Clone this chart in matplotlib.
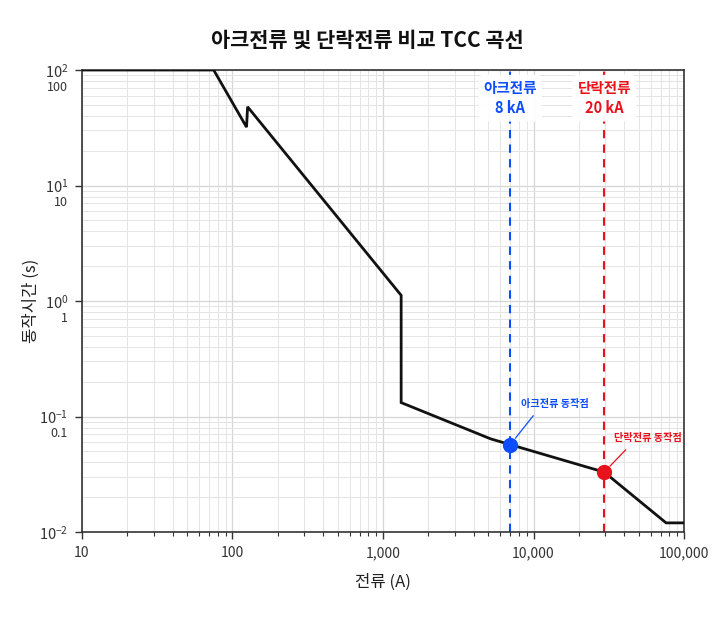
import matplotlib
matplotlib.use("Agg")
import matplotlib.pyplot as plt
import matplotlib.ticker as mticker
import matplotlib.transforms as mtransforms

plt.rcParams['font.family'] = ['Noto Sans CJK KR', 'DejaVu Sans']
plt.rcParams['axes.unicode_minus'] = False
plt.rcParams['mathtext.fontset'] = 'custom'
plt.rcParams['mathtext.rm'] = 'Noto Sans'
plt.rcParams['mathtext.it'] = 'Noto Sans:italic'
plt.rcParams['mathtext.bf'] = 'Noto Sans:bold'

# ---- data ----
current_A = [10, 75, 124, 126, 1320, 1320, 5200, 29500, 76000, 100000]
time_s = [100, 100, 32, 48, 1.12, 0.132, 0.064, 0.033, 0.012, 0.012]

arc_current = 7000
arc_time = 0.057
fault_current = 29500
fault_time = 0.033

arc_label = "아크전류\n8 kA"
fault_label = "단락전류\n20 kA"
arc_point_label = "아크전류 동작점"
fault_point_label = "단락전류 동작점"

x_ticks = [10, 100, 1000, 10000, 100000]
x_tick_labels = ["10", "100", "1,000", "10,000", "100,000"]
y_ticks = [0.01, 0.1, 1, 10, 100]
y_tick_labels = [r"$\mathregular{10^{-2}}$", r"$\mathregular{10^{-1}}$",
                 r"$\mathregular{10^{0}}$", r"$\mathregular{10^{1}}$",
                 r"$\mathregular{10^{2}}$"]
y_sub_labels = ["", "0.1", "1", "10", "100"]

title = "아크전류 및 단락전류 비교 TCC 곡선"
xlabel = "전류 (A)"
ylabel = "동작시간 (s)"

blue = "#0d4dff"
red = "#e8121c"

fig = plt.figure(figsize=(7.28, 6.2), dpi=100)
ax = fig.add_axes([0.1126, 0.1419, 0.827, 0.7452])

ax.set_xscale('log')
ax.set_yscale('log')
ax.set_xlim(10, 100000)
ax.set_ylim(0.01, 100)

ax.grid(True, which='major', color='#d6d6d6', linewidth=0.9, zorder=0)
ax.grid(True, which='minor', color='#e4e4e4', linewidth=0.7, zorder=0)
ax.set_axisbelow(True)

ax.plot(current_A, time_s, color='#111111', linewidth=2.0, zorder=3,
        solid_joinstyle='miter')

ax.axvline(arc_current, color=blue, linestyle=(0, (4, 3)), linewidth=1.5, zorder=2)
ax.axvline(fault_current, color=red, linestyle=(0, (4, 3)), linewidth=1.5, zorder=2)

ax.plot([arc_current], [arc_time], 'o', color=blue, markersize=10, zorder=5)
ax.plot([fault_current], [fault_time], 'o', color=red, markersize=10, zorder=5)

ax.text(arc_current, 57, arc_label, color=blue, fontsize=10.5, fontweight='bold',
        ha='center', va='center', linespacing=1.35, zorder=6,
        bbox=dict(boxstyle='round,pad=0.35', facecolor='white', edgecolor='none', alpha=0.95))
ax.text(fault_current, 57, fault_label, color=red, fontsize=10.5, fontweight='bold',
        ha='center', va='center', linespacing=1.35, zorder=6,
        bbox=dict(boxstyle='round,pad=0.35', facecolor='white', edgecolor='none', alpha=0.95))

ax.annotate(arc_point_label, xy=(arc_current, arc_time), xytext=(8, 26),
            textcoords='offset points', color=blue, fontsize=7.3, fontweight='bold',
            ha='left', va='bottom', zorder=6,
            arrowprops=dict(arrowstyle='-', color=blue, linewidth=0.9,
                            shrinkA=4, shrinkB=6, relpos=(0.26, 0)))
ax.annotate(fault_point_label, xy=(fault_current, fault_time), xytext=(7, 21),
            textcoords='offset points', color=red, fontsize=7.3, fontweight='bold',
            ha='left', va='bottom', zorder=6,
            arrowprops=dict(arrowstyle='-', color=red, linewidth=0.9,
                            shrinkA=4, shrinkB=6, relpos=(0.27, 0)))

ax.xaxis.set_major_locator(mticker.FixedLocator(x_ticks))
ax.xaxis.set_major_formatter(mticker.FixedFormatter(x_tick_labels))
ax.xaxis.set_minor_locator(mticker.LogLocator(base=10, subs=range(2, 10), numticks=20))
ax.xaxis.set_minor_formatter(mticker.NullFormatter())
ax.yaxis.set_major_locator(mticker.FixedLocator(y_ticks))
ax.yaxis.set_major_formatter(mticker.FixedFormatter(y_tick_labels))
ax.yaxis.set_minor_locator(mticker.LogLocator(base=10, subs=range(2, 10), numticks=20))
ax.yaxis.set_minor_formatter(mticker.NullFormatter())

ax.tick_params(axis='both', which='major', labelsize=10.5, colors='#333333',
               length=5, width=1.0, pad=5)
ax.tick_params(axis='x', which='major', labelsize=10)
ax.tick_params(axis='x', which='minor', length=3, width=0.8, colors='#333333')
ax.tick_params(axis='y', which='minor', length=0)

trans = mtransforms.blended_transform_factory(ax.transAxes, ax.transData)
off = mtransforms.ScaledTranslation(-10 / 72, -12.5 / 72, fig.dpi_scale_trans)
for yv, lab in zip(y_ticks, y_sub_labels):
    if lab:
        ax.text(0, yv, lab, transform=trans + off, ha='right', va='center',
                fontsize=9, color='#333333')

for s in ax.spines.values():
    s.set_color('#333333')
    s.set_linewidth(1.2)

ax.set_xlabel(xlabel, fontsize=12, color='#222222', labelpad=10)
ax.set_ylabel(ylabel, fontsize=12, color='#222222')
ax.yaxis.set_label_coords(-0.07, 0.5)

fig.text(0.505, 0.935, title, ha='center', va='center', fontsize=15,
         fontweight='bold', color='#111111')

fig.savefig("out.png", dpi=100, facecolor='white')
